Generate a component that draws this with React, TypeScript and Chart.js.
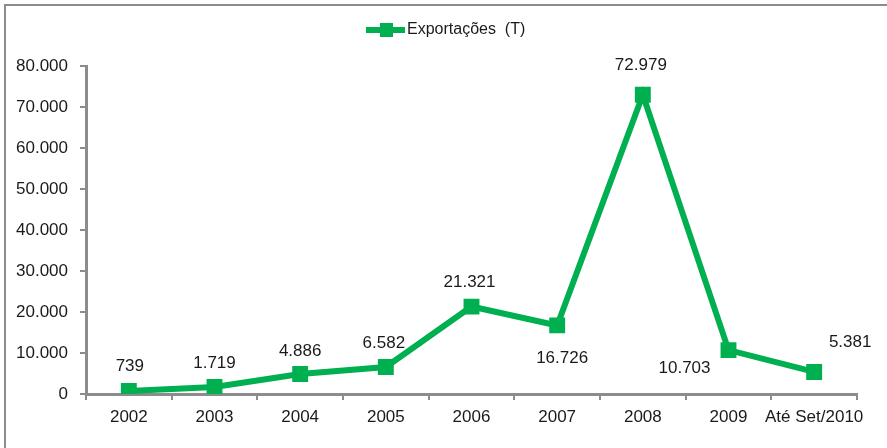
import React, { useEffect, useRef } from "react";
import { Chart, registerables } from "chart.js";

Chart.register(...registerables);

const categories = ["2002", "2003", "2004", "2005", "2006", "2007", "2008", "2009", "Até Set/2010"];
const exportValues = [739, 1719, 4886, 6582, 21321, 16726, 72979, 10703, 5381];
const seriesLabel = "Exportações  (T)";
const yTicks = [0, 10000, 20000, 30000, 40000, 50000, 60000, 70000, 80000];

const GREEN = "#00B050";
const AXIS = "#8c8c8c";
const TEXT = "#1a1a1a";
const FONT = "'Liberation Sans', Arial, sans-serif";

const fmt = (v: number) => v.toLocaleString("pt-BR");

// label offsets (styling only)
const labelOffsets: [number, number][] = [
  [1, -25], [0, -24], [0, -23], [-2, -23.5], [-2, -24.5], [5, 33], [-2, -29], [-44, 18], [36, -30],
];

const decorPlugin = {
  id: "decor",
  afterDatasetsDraw(chart: any) {
    const ctx = chart.ctx;
    const meta = chart.getDatasetMeta(0);
    ctx.save();
    ctx.font = `17px ${FONT}`;
    ctx.fillStyle = TEXT;
    ctx.textAlign = "center";
    ctx.textBaseline = "middle";
    meta.data.forEach((pt: any, i: number) => {
      const [dx, dy] = labelOffsets[i];
      ctx.fillText(fmt(exportValues[i]), pt.x + dx, pt.y + dy);
    });
    // legend
    const lx = 366, ly = 30;
    ctx.strokeStyle = GREEN;
    ctx.lineWidth = 6;
    ctx.beginPath();
    ctx.moveTo(lx, ly);
    ctx.lineTo(lx + 39, ly);
    ctx.stroke();
    ctx.fillStyle = GREEN;
    ctx.fillRect(lx + 14, ly - 7, 13, 14);
    ctx.fillStyle = TEXT;
    ctx.textAlign = "left";
    ctx.font = `16px ${FONT}`;
    ctx.fillText(seriesLabel, lx + 41, ly);
    // frame
    ctx.strokeStyle = AXIS;
    ctx.lineWidth = 2;
    ctx.beginPath();
    ctx.moveTo(5, chart.height);
    ctx.lineTo(5, 5);
    ctx.lineTo(chart.width, 5);
    ctx.stroke();
    ctx.restore();
  },
};

export default function App() {
  const ref = useRef<HTMLCanvasElement>(null);
  useEffect(() => {
    document.body.style.margin = "0";
    const chart = new Chart(ref.current!, {
      type: "line",
      data: {
        labels: categories,
        datasets: [
          {
            label: seriesLabel,
            data: exportValues,
            borderColor: GREEN,
            backgroundColor: GREEN,
            borderWidth: 6,
            pointStyle: "rect",
            pointRadius: 7,
            pointHoverRadius: 7,
            tension: 0,
          },
        ],
      },
      options: {
        animation: false,
        responsive: false,
        layout: { padding: { top: 66, right: 30, left: 0, bottom: 0 } },
        plugins: { legend: { display: false }, tooltip: { enabled: false } },
        scales: {
          x: {
            offset: true,
            grid: { offset: true, display: true, drawOnChartArea: false, color: AXIS, lineWidth: 2, tickLength: 6 },
            border: { color: AXIS, width: 3 },
            ticks: { color: TEXT, font: { family: FONT, size: 17 }, padding: 7, maxRotation: 0, autoSkip: false },
            afterFit: (s: any) => { s.height = 54; },
          },
          y: {
            min: 0,
            max: 80000,
            afterBuildTicks: (s: any) => { s.ticks = yTicks.map((v) => ({ value: v })); },
            grid: { display: true, drawOnChartArea: false, color: AXIS, lineWidth: 2, tickLength: 6 },
            border: { color: AXIS, width: 3 },
            ticks: { color: TEXT, font: { family: FONT, size: 17 }, padding: 12, callback: (v: any) => fmt(Number(v)) },
            afterFit: (s: any) => { s.width = 86; },
          },
        },
      },
      plugins: [decorPlugin],
    });
    return () => chart.destroy();
  }, []);
  return <canvas ref={ref} width={887} height={448} style={{ display: "block" }} />;
}
